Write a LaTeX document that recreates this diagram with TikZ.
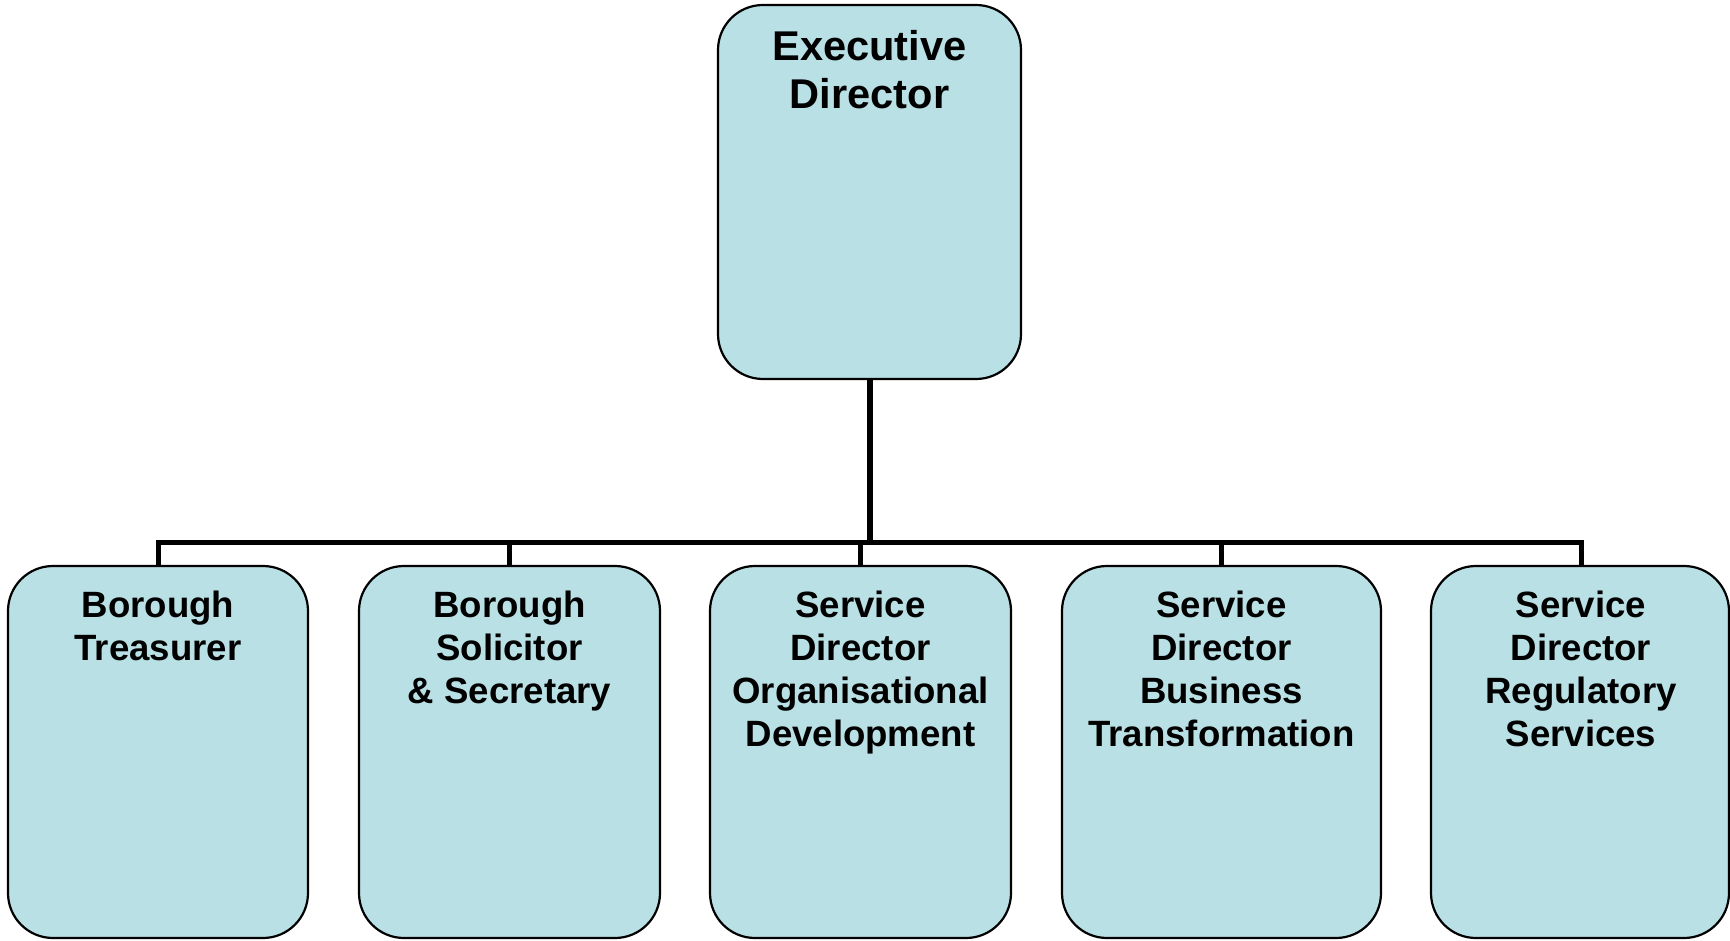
\documentclass[tikz,border=0pt]{standalone}
\usepackage{fontspec}
\setmainfont{Liberation Sans}
\definecolor{boxfill}{RGB}{185,224,228}
\begin{document}
\begin{tikzpicture}[x=0.5pt,y=-0.5pt,
  rolebox/.style={draw,line width=1.1pt,fill=boxfill,rounded corners=22.5pt,minimum height=186pt,inner sep=0pt},
  roletext/.style={anchor=base,align=center,inner sep=0pt,font=\fontsize{18.3pt}{21.5pt}\selectfont\bfseries},
  link/.style={draw,line width=2.5pt}]
\useasboundingbox (0,0) rectangle (1730,941);
\node[rolebox,minimum width=151.5pt,minimum height=187pt] (0) at (869.5,192) {};
\node[rolebox,minimum width=150pt] (1) at (158,752) {};
\node[rolebox,minimum width=150.5pt] (2) at (509.5,752) {};
\node[rolebox,minimum width=150.5pt] (3) at (860.5,752) {};
\node[rolebox,minimum width=159.5pt] (4) at (1221.5,752) {};
\node[rolebox,minimum width=149pt] (5) at (1580,752) {};
% base anchor sits on the last line
\node[roletext,font=\fontsize{20.8pt}{24pt}\selectfont\bfseries] (t0) at (869.5,61+48) {Executive\\Director};
\node[roletext] (t1) at (158,617+43) {Borough\\Treasurer};
\node[roletext] (t2) at (509.5,617+2*43) {Borough\\Solicitor\\\& Secretary};
\node[roletext] (t3) at (860.5,617+3*43) {Service\\Director\\Organisational\\Development};
\node[roletext] (t4) at (1221.5,617+3*43) {Service\\Director\\Business\\Transformation};
\node[roletext] (t5) at (1581,617+3*43) {Service\\Director\\Regulatory\\Services};
\coordinate (bar) at (869.5,542);
\path[link,line width=3pt] (0) -- (bar);
\path[link] (1.north) |- (bar);
\path[link] (2.north) |- (bar);
\path[link] (3.north) |- (bar);
\path[link] (4.north) |- (bar);
\path[link] (5.north -| 1581,0) |- (bar);
\end{tikzpicture}
\end{document}
